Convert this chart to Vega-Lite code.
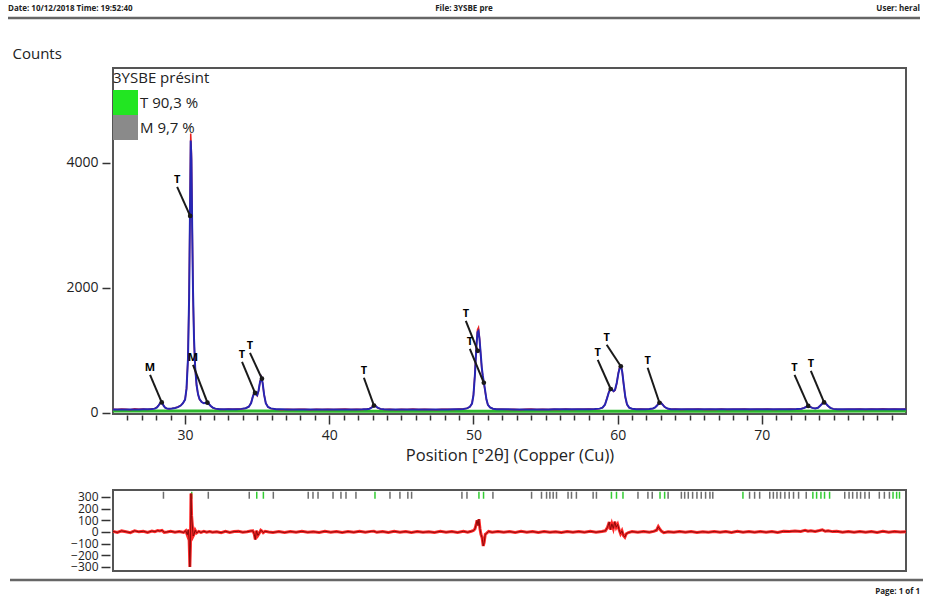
{
  "$schema": "https://vega.github.io/schema/vega-lite/v6.json",
  "background": "white",
  "padding": {"left": 6, "top": 0, "right": 4, "bottom": 2},
  "config": {
    "font": "Open Sans",
    "view": {"stroke": null},
    "axis": {"labelColor": "#222", "titleColor": "#222", "tickColor": "#333", "titleFontWeight": "normal", "grid": false, "domain": false, "labelFont": "Open Sans", "titleFont": "Open Sans"}
  },
  "datasets": {
    "bkg": [
      {"x": 25, "bg": 30}, {"x": 40, "bg": 26}, {"x": 60, "bg": 24}, {"x": 80, "bg": 27}
    ],
    "profile": [
      {"x": 25.0, "obs": 58, "calc": 52}, {"x": 25.3, "obs": 52, "calc": 52}, {"x": 25.6, "obs": 61, "calc": 52}, {"x": 25.9, "obs": 55, "calc": 52},
      {"x": 26.2, "obs": 50, "calc": 53}, {"x": 26.5, "obs": 63, "calc": 53}, {"x": 26.8, "obs": 56, "calc": 54}, {"x": 27.1, "obs": 60, "calc": 55},
      {"x": 27.4, "obs": 54, "calc": 57}, {"x": 27.7, "obs": 66, "calc": 60}, {"x": 27.9, "obs": 70, "calc": 66}, {"x": 28.05, "obs": 90, "calc": 85},
      {"x": 28.15, "obs": 118, "calc": 112}, {"x": 28.25, "obs": 150, "calc": 145}, {"x": 28.33, "obs": 172, "calc": 165}, {"x": 28.42, "obs": 158, "calc": 152},
      {"x": 28.52, "obs": 112, "calc": 110}, {"x": 28.62, "obs": 82, "calc": 80}, {"x": 28.75, "obs": 66, "calc": 66}, {"x": 28.9, "obs": 62, "calc": 64},
      {"x": 29.1, "obs": 70, "calc": 68}, {"x": 29.3, "obs": 76, "calc": 76}, {"x": 29.5, "obs": 92, "calc": 90}, {"x": 29.7, "obs": 118, "calc": 115},
      {"x": 29.85, "obs": 150, "calc": 152}, {"x": 30.0, "obs": 215, "calc": 210}, {"x": 30.1, "obs": 380, "calc": 390}, {"x": 30.2, "obs": 880, "calc": 860},
      {"x": 30.28, "obs": 1900, "calc": 1850}, {"x": 30.34, "obs": 3300, "calc": 3200}, {"x": 30.39, "obs": 4470, "calc": 4360}, {"x": 30.44, "obs": 4150, "calc": 4050},
      {"x": 30.49, "obs": 3100, "calc": 3000}, {"x": 30.55, "obs": 1900, "calc": 1950}, {"x": 30.62, "obs": 1150, "calc": 1180}, {"x": 30.7, "obs": 700, "calc": 720},
      {"x": 30.8, "obs": 430, "calc": 440}, {"x": 30.9, "obs": 290, "calc": 295}, {"x": 31.0, "obs": 215, "calc": 218}, {"x": 31.15, "obs": 170, "calc": 172},
      {"x": 31.3, "obs": 155, "calc": 152}, {"x": 31.45, "obs": 158, "calc": 160}, {"x": 31.55, "obs": 165, "calc": 162}, {"x": 31.65, "obs": 140, "calc": 140},
      {"x": 31.78, "obs": 105, "calc": 108}, {"x": 31.92, "obs": 80, "calc": 82}, {"x": 32.1, "obs": 64, "calc": 66}, {"x": 32.4, "obs": 58, "calc": 58},
      {"x": 32.7, "obs": 51, "calc": 55}, {"x": 33.0, "obs": 60, "calc": 55}, {"x": 33.3, "obs": 55, "calc": 56}, {"x": 33.6, "obs": 62, "calc": 58},
      {"x": 33.9, "obs": 61, "calc": 62}, {"x": 34.2, "obs": 72, "calc": 72}, {"x": 34.42, "obs": 98, "calc": 96}, {"x": 34.58, "obs": 160, "calc": 155},
      {"x": 34.7, "obs": 265, "calc": 258}, {"x": 34.8, "obs": 325, "calc": 318}, {"x": 34.9, "obs": 305, "calc": 298}, {"x": 35.0, "obs": 272, "calc": 280},
      {"x": 35.1, "obs": 350, "calc": 360}, {"x": 35.2, "obs": 500, "calc": 495}, {"x": 35.3, "obs": 568, "calc": 560}, {"x": 35.38, "obs": 470, "calc": 475},
      {"x": 35.48, "obs": 285, "calc": 290}, {"x": 35.6, "obs": 155, "calc": 150}, {"x": 35.75, "obs": 92, "calc": 92}, {"x": 35.95, "obs": 68, "calc": 70},
      {"x": 36.3, "obs": 58, "calc": 58}, {"x": 36.7, "obs": 50, "calc": 55}, {"x": 37.1, "obs": 57, "calc": 54}, {"x": 37.5, "obs": 52, "calc": 54},
      {"x": 37.9, "obs": 58, "calc": 54}, {"x": 38.3, "obs": 55, "calc": 54}, {"x": 38.7, "obs": 49, "calc": 54}, {"x": 39.1, "obs": 56, "calc": 54},
      {"x": 39.5, "obs": 53, "calc": 53}, {"x": 39.9, "obs": 58, "calc": 53}, {"x": 40.3, "obs": 51, "calc": 53}, {"x": 40.7, "obs": 55, "calc": 53},
      {"x": 41.1, "obs": 60, "calc": 53}, {"x": 41.5, "obs": 52, "calc": 53}, {"x": 41.9, "obs": 56, "calc": 54}, {"x": 42.3, "obs": 52, "calc": 55},
      {"x": 42.6, "obs": 60, "calc": 58}, {"x": 42.8, "obs": 68, "calc": 65}, {"x": 42.95, "obs": 88, "calc": 84}, {"x": 43.08, "obs": 118, "calc": 112},
      {"x": 43.2, "obs": 112, "calc": 110}, {"x": 43.35, "obs": 80, "calc": 80}, {"x": 43.55, "obs": 60, "calc": 62}, {"x": 43.8, "obs": 54, "calc": 55},
      {"x": 44.2, "obs": 58, "calc": 53}, {"x": 44.6, "obs": 50, "calc": 53}, {"x": 45.0, "obs": 56, "calc": 53}, {"x": 45.4, "obs": 53, "calc": 53},
      {"x": 45.8, "obs": 59, "calc": 53}, {"x": 46.2, "obs": 51, "calc": 53}, {"x": 46.6, "obs": 57, "calc": 53}, {"x": 47.0, "obs": 54, "calc": 53},
      {"x": 47.4, "obs": 50, "calc": 53}, {"x": 47.8, "obs": 58, "calc": 54}, {"x": 48.2, "obs": 55, "calc": 54}, {"x": 48.6, "obs": 52, "calc": 55},
      {"x": 49.0, "obs": 60, "calc": 57}, {"x": 49.3, "obs": 62, "calc": 60}, {"x": 49.55, "obs": 72, "calc": 70}, {"x": 49.75, "obs": 95, "calc": 95},
      {"x": 49.9, "obs": 150, "calc": 148}, {"x": 50.0, "obs": 290, "calc": 280}, {"x": 50.1, "obs": 620, "calc": 600}, {"x": 50.2, "obs": 1080, "calc": 1040},
      {"x": 50.28, "obs": 1330, "calc": 1290}, {"x": 50.35, "obs": 1365, "calc": 1310}, {"x": 50.42, "obs": 1200, "calc": 1180}, {"x": 50.5, "obs": 930, "calc": 950},
      {"x": 50.58, "obs": 700, "calc": 720}, {"x": 50.65, "obs": 580, "calc": 590}, {"x": 50.72, "obs": 480, "calc": 490}, {"x": 50.8, "obs": 360, "calc": 370},
      {"x": 50.9, "obs": 210, "calc": 215}, {"x": 51.0, "obs": 130, "calc": 128}, {"x": 51.15, "obs": 85, "calc": 85}, {"x": 51.35, "obs": 64, "calc": 65},
      {"x": 51.6, "obs": 56, "calc": 58}, {"x": 52.0, "obs": 58, "calc": 55}, {"x": 52.4, "obs": 52, "calc": 55}, {"x": 52.8, "obs": 57, "calc": 54},
      {"x": 53.2, "obs": 50, "calc": 54}, {"x": 53.6, "obs": 55, "calc": 54}, {"x": 54.0, "obs": 59, "calc": 54}, {"x": 54.4, "obs": 53, "calc": 54},
      {"x": 54.8, "obs": 57, "calc": 54}, {"x": 55.2, "obs": 51, "calc": 54}, {"x": 55.6, "obs": 56, "calc": 55}, {"x": 56.0, "obs": 54, "calc": 55},
      {"x": 56.4, "obs": 60, "calc": 55}, {"x": 56.8, "obs": 52, "calc": 55}, {"x": 57.2, "obs": 57, "calc": 56}, {"x": 57.6, "obs": 55, "calc": 57},
      {"x": 58.0, "obs": 62, "calc": 58}, {"x": 58.4, "obs": 58, "calc": 60}, {"x": 58.75, "obs": 66, "calc": 66}, {"x": 58.95, "obs": 82, "calc": 80},
      {"x": 59.12, "obs": 130, "calc": 128}, {"x": 59.27, "obs": 240, "calc": 235}, {"x": 59.4, "obs": 340, "calc": 335}, {"x": 59.52, "obs": 384, "calc": 375},
      {"x": 59.62, "obs": 370, "calc": 365}, {"x": 59.72, "obs": 340, "calc": 345}, {"x": 59.82, "obs": 360, "calc": 370}, {"x": 59.94, "obs": 470, "calc": 480},
      {"x": 60.05, "obs": 640, "calc": 630}, {"x": 60.15, "obs": 740, "calc": 725}, {"x": 60.24, "obs": 752, "calc": 740}, {"x": 60.32, "obs": 650, "calc": 655},
      {"x": 60.42, "obs": 450, "calc": 460}, {"x": 60.53, "obs": 250, "calc": 255}, {"x": 60.65, "obs": 130, "calc": 135}, {"x": 60.8, "obs": 80, "calc": 82},
      {"x": 61.0, "obs": 62, "calc": 64}, {"x": 61.3, "obs": 56, "calc": 58}, {"x": 61.6, "obs": 60, "calc": 57}, {"x": 61.9, "obs": 55, "calc": 58},
      {"x": 62.2, "obs": 60, "calc": 60}, {"x": 62.45, "obs": 68, "calc": 68}, {"x": 62.6, "obs": 85, "calc": 85}, {"x": 62.75, "obs": 125, "calc": 120},
      {"x": 62.88, "obs": 162, "calc": 158}, {"x": 63.0, "obs": 165, "calc": 160}, {"x": 63.12, "obs": 132, "calc": 130}, {"x": 63.25, "obs": 95, "calc": 95},
      {"x": 63.45, "obs": 68, "calc": 68}, {"x": 63.7, "obs": 56, "calc": 58}, {"x": 64.0, "obs": 60, "calc": 56}, {"x": 64.4, "obs": 53, "calc": 56},
      {"x": 64.8, "obs": 58, "calc": 56}, {"x": 65.2, "obs": 55, "calc": 56}, {"x": 65.6, "obs": 61, "calc": 56}, {"x": 66.0, "obs": 52, "calc": 56},
      {"x": 66.4, "obs": 57, "calc": 56}, {"x": 66.8, "obs": 54, "calc": 56}, {"x": 67.2, "obs": 59, "calc": 56}, {"x": 67.6, "obs": 53, "calc": 56},
      {"x": 68.0, "obs": 57, "calc": 56}, {"x": 68.4, "obs": 55, "calc": 56}, {"x": 68.8, "obs": 60, "calc": 56}, {"x": 69.2, "obs": 54, "calc": 56},
      {"x": 69.6, "obs": 58, "calc": 56}, {"x": 70.0, "obs": 55, "calc": 56}, {"x": 70.4, "obs": 60, "calc": 57}, {"x": 70.8, "obs": 53, "calc": 57},
      {"x": 71.2, "obs": 58, "calc": 57}, {"x": 71.6, "obs": 56, "calc": 57}, {"x": 72.0, "obs": 61, "calc": 58}, {"x": 72.4, "obs": 57, "calc": 59},
      {"x": 72.75, "obs": 64, "calc": 64}, {"x": 72.95, "obs": 80, "calc": 78}, {"x": 73.1, "obs": 100, "calc": 96}, {"x": 73.22, "obs": 112, "calc": 108},
      {"x": 73.35, "obs": 98, "calc": 95}, {"x": 73.5, "obs": 78, "calc": 78}, {"x": 73.7, "obs": 70, "calc": 70}, {"x": 73.9, "obs": 82, "calc": 80},
      {"x": 74.05, "obs": 115, "calc": 112}, {"x": 74.2, "obs": 150, "calc": 148}, {"x": 74.32, "obs": 166, "calc": 162}, {"x": 74.44, "obs": 148, "calc": 148},
      {"x": 74.58, "obs": 110, "calc": 112}, {"x": 74.75, "obs": 78, "calc": 78}, {"x": 74.95, "obs": 62, "calc": 62}, {"x": 75.2, "obs": 57, "calc": 57},
      {"x": 75.6, "obs": 53, "calc": 56}, {"x": 76.0, "obs": 58, "calc": 56}, {"x": 76.4, "obs": 55, "calc": 56}, {"x": 76.8, "obs": 60, "calc": 56},
      {"x": 77.2, "obs": 54, "calc": 56}, {"x": 77.6, "obs": 62, "calc": 57}, {"x": 78.0, "obs": 56, "calc": 57}, {"x": 78.4, "obs": 63, "calc": 57},
      {"x": 78.8, "obs": 58, "calc": 58}, {"x": 79.2, "obs": 61, "calc": 58}, {"x": 79.6, "obs": 55, "calc": 58}, {"x": 80.0, "obs": 60, "calc": 58}
    ],
    "ann": [
      {"label": "M", "lx": 27.57, "ly": 608, "px": 28.38, "py": 165},
      {"label": "T", "lx": 29.45, "ly": 3616, "px": 30.35, "py": 3152},
      {"label": "M", "lx": 30.55, "ly": 768, "px": 31.55, "py": 162},
      {"label": "T", "lx": 33.95, "ly": 816, "px": 34.85, "py": 318},
      {"label": "T", "lx": 34.5, "ly": 960, "px": 35.33, "py": 545},
      {"label": "T", "lx": 42.4, "ly": 560, "px": 43.1, "py": 115},
      {"label": "T", "lx": 49.47, "ly": 1472, "px": 50.3, "py": 992},
      {"label": "T", "lx": 49.75, "ly": 1024, "px": 50.72, "py": 480},
      {"label": "T", "lx": 58.62, "ly": 848, "px": 59.52, "py": 380},
      {"label": "T", "lx": 59.24, "ly": 1088, "px": 60.22, "py": 745},
      {"label": "T", "lx": 62.08, "ly": 720, "px": 62.9, "py": 160},
      {"label": "T", "lx": 72.27, "ly": 608, "px": 73.22, "py": 110},
      {"label": "T", "lx": 73.4, "ly": 672, "px": 74.32, "py": 165}
    ],
    "phases": [{"phase": "T 90,3 %"}, {"phase": "M 9,7 %"}],
    "refl": [
      {"phase": "M", "x": 28.5}, {"phase": "T", "x": 30.46}, {"phase": "M", "x": 31.61}, {"phase": "M", "x": 34.45},
      {"phase": "T", "x": 34.97}, {"phase": "T", "x": 35.43}, {"phase": "M", "x": 36.12}, {"phase": "M", "x": 38.54},
      {"phase": "M", "x": 38.87}, {"phase": "M", "x": 39.22}, {"phase": "M", "x": 40.26}, {"phase": "M", "x": 40.81},
      {"phase": "M", "x": 41.16}, {"phase": "M", "x": 41.85}, {"phase": "T", "x": 43.17}, {"phase": "M", "x": 44.21},
      {"phase": "M", "x": 44.9}, {"phase": "M", "x": 45.45}, {"phase": "M", "x": 45.71}, {"phase": "M", "x": 49.2},
      {"phase": "M", "x": 49.55}, {"phase": "T", "x": 50.38}, {"phase": "T", "x": 50.7}, {"phase": "M", "x": 51.35},
      {"phase": "M", "x": 54.03}, {"phase": "M", "x": 54.72}, {"phase": "M", "x": 55.07}, {"phase": "M", "x": 55.3},
      {"phase": "M", "x": 55.53}, {"phase": "M", "x": 55.76}, {"phase": "M", "x": 56.56}, {"phase": "M", "x": 56.8},
      {"phase": "M", "x": 57.14}, {"phase": "M", "x": 58.3}, {"phase": "M", "x": 58.53}, {"phase": "T", "x": 59.57},
      {"phase": "T", "x": 59.92}, {"phase": "T", "x": 60.37}, {"phase": "M", "x": 61.41}, {"phase": "M", "x": 62.1},
      {"phase": "M", "x": 62.4}, {"phase": "T", "x": 62.94}, {"phase": "T", "x": 63.26}, {"phase": "M", "x": 63.5},
      {"phase": "M", "x": 64.42}, {"phase": "M", "x": 64.65}, {"phase": "M", "x": 64.9}, {"phase": "M", "x": 65.2},
      {"phase": "M", "x": 65.5}, {"phase": "M", "x": 65.8}, {"phase": "M", "x": 66.1}, {"phase": "M", "x": 66.4},
      {"phase": "M", "x": 66.6}, {"phase": "T", "x": 68.69}, {"phase": "M", "x": 69.15}, {"phase": "M", "x": 69.5},
      {"phase": "M", "x": 69.85}, {"phase": "M", "x": 70.55}, {"phase": "M", "x": 70.8}, {"phase": "M", "x": 71.05},
      {"phase": "M", "x": 71.3}, {"phase": "M", "x": 71.6}, {"phase": "M", "x": 71.9}, {"phase": "M", "x": 72.2},
      {"phase": "M", "x": 72.55}, {"phase": "M", "x": 73.08}, {"phase": "T", "x": 73.54}, {"phase": "T", "x": 73.8},
      {"phase": "T", "x": 74.1}, {"phase": "T", "x": 74.35}, {"phase": "T", "x": 74.7}, {"phase": "M", "x": 75.75},
      {"phase": "M", "x": 76.05}, {"phase": "M", "x": 76.3}, {"phase": "M", "x": 76.6}, {"phase": "M", "x": 76.85},
      {"phase": "M", "x": 77.15}, {"phase": "M", "x": 77.45}, {"phase": "M", "x": 78.15}, {"phase": "M", "x": 78.5},
      {"phase": "M", "x": 78.85}, {"phase": "T", "x": 79.1}, {"phase": "T", "x": 79.35}, {"phase": "T", "x": 79.55}
    ],
    "resid": [
      {"x": 25.0, "d": 5}, {"x": 25.3, "d": -4}, {"x": 25.6, "d": 9}, {"x": 25.9, "d": 2}, {"x": 26.2, "d": -6}, {"x": 26.5, "d": 10},
      {"x": 26.8, "d": 1}, {"x": 27.1, "d": 6}, {"x": 27.4, "d": -4}, {"x": 27.7, "d": 8}, {"x": 27.9, "d": 3}, {"x": 28.1, "d": 12},
      {"x": 28.25, "d": 8}, {"x": 28.4, "d": 14}, {"x": 28.55, "d": -3}, {"x": 28.75, "d": 0}, {"x": 29.0, "d": 6}, {"x": 29.3, "d": -2},
      {"x": 29.6, "d": 4}, {"x": 29.9, "d": -4}, {"x": 30.05, "d": 10}, {"x": 30.15, "d": -25}, {"x": 30.22, "d": 20}, {"x": 30.28, "d": -60},
      {"x": 30.33, "d": -300}, {"x": 30.37, "d": -120}, {"x": 30.41, "d": 330}, {"x": 30.45, "d": 140}, {"x": 30.5, "d": 60}, {"x": 30.56, "d": -35},
      {"x": 30.62, "d": -20}, {"x": 30.7, "d": 15}, {"x": 30.8, "d": -8}, {"x": 30.95, "d": 5}, {"x": 31.1, "d": -4}, {"x": 31.3, "d": 6},
      {"x": 31.5, "d": -2}, {"x": 31.7, "d": 4}, {"x": 31.9, "d": -3}, {"x": 32.2, "d": 2}, {"x": 32.5, "d": -6}, {"x": 32.8, "d": 5},
      {"x": 33.1, "d": -4}, {"x": 33.4, "d": 3}, {"x": 33.7, "d": 6}, {"x": 34.0, "d": -3}, {"x": 34.3, "d": 2}, {"x": 34.55, "d": 8},
      {"x": 34.7, "d": 10}, {"x": 34.8, "d": -20}, {"x": 34.87, "d": -65}, {"x": 34.95, "d": 10}, {"x": 35.05, "d": -30}, {"x": 35.15, "d": -10},
      {"x": 35.25, "d": 15}, {"x": 35.33, "d": 8}, {"x": 35.42, "d": -6}, {"x": 35.55, "d": 5}, {"x": 35.8, "d": 0}, {"x": 36.1, "d": -4},
      {"x": 36.5, "d": 3}, {"x": 36.9, "d": -5}, {"x": 37.3, "d": 4}, {"x": 37.7, "d": -2}, {"x": 38.1, "d": 5}, {"x": 38.5, "d": -3},
      {"x": 38.9, "d": 2}, {"x": 39.3, "d": -4}, {"x": 39.7, "d": 6}, {"x": 40.1, "d": -2}, {"x": 40.5, "d": 3}, {"x": 40.9, "d": -5},
      {"x": 41.3, "d": 4}, {"x": 41.7, "d": -3}, {"x": 42.1, "d": 5}, {"x": 42.5, "d": -2}, {"x": 42.9, "d": 5}, {"x": 43.1, "d": 6},
      {"x": 43.3, "d": -3}, {"x": 43.7, "d": 3}, {"x": 44.1, "d": -4}, {"x": 44.5, "d": 5}, {"x": 44.9, "d": -2}, {"x": 45.3, "d": 3},
      {"x": 45.7, "d": -5}, {"x": 46.1, "d": 4}, {"x": 46.5, "d": -3}, {"x": 46.9, "d": 2}, {"x": 47.3, "d": -4}, {"x": 47.7, "d": 5},
      {"x": 48.1, "d": -2}, {"x": 48.5, "d": 3}, {"x": 48.9, "d": -4}, {"x": 49.3, "d": 5}, {"x": 49.6, "d": -3}, {"x": 49.85, "d": 6},
      {"x": 50.0, "d": 12}, {"x": 50.1, "d": 25}, {"x": 50.18, "d": 60}, {"x": 50.25, "d": 100}, {"x": 50.32, "d": 55}, {"x": 50.38, "d": 110},
      {"x": 50.45, "d": 30}, {"x": 50.52, "d": -20}, {"x": 50.6, "d": -50}, {"x": 50.68, "d": -120}, {"x": 50.74, "d": -90}, {"x": 50.82, "d": -20},
      {"x": 50.92, "d": -10}, {"x": 51.05, "d": 4}, {"x": 51.3, "d": -3}, {"x": 51.7, "d": 4}, {"x": 52.1, "d": -2}, {"x": 52.5, "d": 3},
      {"x": 52.9, "d": -4}, {"x": 53.3, "d": 5}, {"x": 53.7, "d": -2}, {"x": 54.1, "d": 3}, {"x": 54.5, "d": -4}, {"x": 54.9, "d": 4},
      {"x": 55.3, "d": -3}, {"x": 55.7, "d": 2}, {"x": 56.1, "d": -5}, {"x": 56.5, "d": 3}, {"x": 56.9, "d": -2}, {"x": 57.3, "d": 4},
      {"x": 57.7, "d": -3}, {"x": 58.1, "d": 5}, {"x": 58.5, "d": -2}, {"x": 58.9, "d": 4}, {"x": 59.15, "d": 10}, {"x": 59.3, "d": 40},
      {"x": 59.42, "d": 85}, {"x": 59.5, "d": 20}, {"x": 59.6, "d": 70}, {"x": 59.7, "d": 30}, {"x": 59.8, "d": 88}, {"x": 59.9, "d": 40},
      {"x": 60.0, "d": 65}, {"x": 60.1, "d": 20}, {"x": 60.2, "d": -15}, {"x": 60.3, "d": 10}, {"x": 60.4, "d": -30}, {"x": 60.5, "d": -45},
      {"x": 60.6, "d": -15}, {"x": 60.75, "d": -5}, {"x": 61.0, "d": 3}, {"x": 61.4, "d": -3}, {"x": 61.8, "d": 4}, {"x": 62.2, "d": -2},
      {"x": 62.5, "d": 5}, {"x": 62.7, "d": 15}, {"x": 62.82, "d": 45}, {"x": 62.92, "d": 25}, {"x": 63.05, "d": 5}, {"x": 63.2, "d": -6},
      {"x": 63.5, "d": 2}, {"x": 63.9, "d": -3}, {"x": 64.3, "d": 4}, {"x": 64.7, "d": -2}, {"x": 65.1, "d": 3}, {"x": 65.5, "d": -4},
      {"x": 65.9, "d": 2}, {"x": 66.3, "d": -3}, {"x": 66.7, "d": 4}, {"x": 67.1, "d": -2}, {"x": 67.5, "d": 3}, {"x": 67.9, "d": -4},
      {"x": 68.3, "d": 5}, {"x": 68.7, "d": -2}, {"x": 69.1, "d": 3}, {"x": 69.5, "d": -3}, {"x": 69.9, "d": 4}, {"x": 70.3, "d": -2},
      {"x": 70.7, "d": 3}, {"x": 71.1, "d": -4}, {"x": 71.5, "d": 5}, {"x": 71.9, "d": 4}, {"x": 72.3, "d": 8}, {"x": 72.7, "d": 5},
      {"x": 73.0, "d": 14}, {"x": 73.2, "d": 6}, {"x": 73.4, "d": 10}, {"x": 73.7, "d": 4}, {"x": 74.0, "d": 12}, {"x": 74.2, "d": 18},
      {"x": 74.4, "d": 6}, {"x": 74.6, "d": 10}, {"x": 74.9, "d": 3}, {"x": 75.2, "d": 5}, {"x": 75.6, "d": -2}, {"x": 76.0, "d": 3},
      {"x": 76.4, "d": -3}, {"x": 76.8, "d": 4}, {"x": 77.2, "d": -2}, {"x": 77.6, "d": 3}, {"x": 78.0, "d": -4}, {"x": 78.4, "d": 5},
      {"x": 78.8, "d": -2}, {"x": 79.2, "d": 3}, {"x": 79.6, "d": -1}, {"x": 80.0, "d": 2}
    ]
  },
  "spacing": 25,
  "resolve": {"scale": {"color": "independent"}, "legend": {"color": "independent"}},
  "vconcat": [
    {
      "width": 793,
      "height": 18,
      "view": {"stroke": null},
      "layer": [
        {
          "data": {"values": [{"t": "Date: 10/12/2018 Time: 19:52:40"}]},
          "mark": {"type": "text", "align": "left", "baseline": "middle", "fontSize": 8, "fontWeight": "bold", "color": "#222"},
          "encoding": {
            "x": {"datum": 0, "type": "quantitative", "scale": {"domain": [0, 1], "range": [-105, 807]}, "axis": null},
            "y": {"datum": 0.5, "type": "quantitative", "scale": {"domain": [0, 1]}, "axis": null},
            "text": {"field": "t"}
          }
        },
        {
          "data": {"values": [{"t": "File: 3YSBE pre"}]},
          "mark": {"type": "text", "align": "center", "baseline": "middle", "fontSize": 8, "fontWeight": "bold", "color": "#222"},
          "encoding": {
            "x": {"datum": 0.5, "type": "quantitative"},
            "y": {"datum": 0.5, "type": "quantitative"},
            "text": {"field": "t"}
          }
        },
        {
          "data": {"values": [{"t": "User: heral"}]},
          "mark": {"type": "text", "align": "right", "baseline": "middle", "fontSize": 8, "fontWeight": "bold", "color": "#222"},
          "encoding": {
            "x": {"datum": 1, "type": "quantitative"},
            "y": {"datum": 0.5, "type": "quantitative"},
            "text": {"field": "t"}
          }
        },
        {
          "data": {"values": [{"t": "line"}]},
          "mark": {"type": "rule", "color": "#666", "strokeWidth": 2.5},
          "encoding": {
            "x": {"datum": 0, "type": "quantitative"},
            "x2": {"datum": 1},
            "y": {"datum": 0, "type": "quantitative"}
          }
        }
      ]
    },
    {
      "spacing": 21,
      "resolve": {"scale": {"color": "independent"}, "legend": {"color": "independent"}},
      "vconcat": [
        {
          "width": 793,
          "height": 346,
          "view": {"stroke": "#555", "strokeWidth": 2},
          "layer": [
            {
              "data": {"name": "bkg"},
              "mark": {"type": "line", "color": "#2db82d", "strokeWidth": 3},
              "encoding": {
                "x": {
                  "field": "x", "type": "quantitative",
                  "scale": {"domain": [25, 80], "nice": false, "zero": false},
                  "axis": {
                    "values": [26,27,28,29,30,31,32,33,34,35,36,37,38,39,40,41,42,43,44,45,46,47,48,49,50,51,52,53,54,55,56,57,58,59,60,61,62,63,64,65,66,67,68,69,70,71,72,73,74,75,76,77,78,79],
                    "tickCount": 100,
                    "format": "d",
                    "labelExpr": "datum.value % 10 === 0 ? datum.label : ''",
                    "tickSize": {"condition": {"test": "datum.value % 10 === 0", "value": 9}, "value": 5},
                    "tickWidth": 1.5,
                    "offset": 1,
                    "labelFontSize": 14,
                    "labelPadding": 4,
                    "labelOverlap": false,
                    "labelFlush": false,
                    "title": "Position [°2θ] (Copper (Cu))",
                    "titleFontSize": 16.5,
                    "titlePadding": 5
                  }
                },
                "y": {
                  "field": "bg", "type": "quantitative",
                  "scale": {"domain": [-20, 5520], "nice": false, "zero": false},
                  "axis": {
                    "values": [0, 2000, 4000],
                    "tickCount": 10,
                    "format": "d",
                    "tickSize": 8,
                    "tickWidth": 1.5,
                    "offset": 3,
                    "labelPadding": 4,
                    "labelFontSize": 14,
                    "labelOverlap": false,
                    "title": "Counts",
                    "titleAngle": 0,
                    "titleAlign": "left",
                    "titleBaseline": "middle",
                    "titleX": -98,
                    "titleY": -15,
                    "titleFontSize": 15
                  }
                }
              }
            },
            {
              "data": {"name": "profile"},
              "mark": {"type": "line", "color": "#e82020", "strokeWidth": 1.5},
              "encoding": {
                "x": {"field": "x", "type": "quantitative"},
                "y": {"field": "obs", "type": "quantitative"}
              }
            },
            {
              "data": {"name": "profile"},
              "mark": {"type": "line", "color": "#2626b4", "strokeWidth": 2},
              "encoding": {
                "x": {"field": "x", "type": "quantitative"},
                "y": {"field": "calc", "type": "quantitative"}
              }
            },
            {
              "data": {"name": "ann"},
              "mark": {"type": "rule", "color": "#1a1a1a", "strokeWidth": 2},
              "encoding": {
                "x": {"field": "lx", "type": "quantitative"},
                "y": {"field": "ly", "type": "quantitative"},
                "x2": {"field": "px"},
                "y2": {"field": "py"}
              }
            },
            {
              "data": {"name": "ann"},
              "mark": {"type": "point", "filled": true, "color": "#1a1a1a", "size": 22, "opacity": 1},
              "encoding": {
                "x": {"field": "px", "type": "quantitative"},
                "y": {"field": "py", "type": "quantitative"}
              }
            },
            {
              "data": {"name": "ann"},
              "mark": {"type": "text", "fontSize": 11, "fontWeight": "bold", "baseline": "bottom", "align": "center", "dy": -2, "color": "#000"},
              "encoding": {
                "x": {"field": "lx", "type": "quantitative"},
                "y": {"field": "ly", "type": "quantitative"},
                "text": {"field": "label"}
              }
            },
            {
              "data": {"name": "phases"},
              "mark": {"type": "square", "opacity": 0},
              "encoding": {
                "color": {
                  "field": "phase", "type": "nominal",
                  "scale": {"domain": ["T 90,3 %", "M 9,7 %"], "range": ["#22e622", "#8a8a8a"]},
                  "legend": {
                    "title": "3YSBE présint",
                    "orient": "none",
                    "legendX": 0,
                    "legendY": 3,
                    "padding": 0,
                    "symbolType": "square",
                    "symbolSize": 625,
                    "symbolOpacity": 1,
                    "symbolStrokeWidth": 0,
                    "titleFontSize": 15,
                    "titleFontWeight": "normal",
                    "titleColor": "#222",
                    "titlePadding": 4,
                    "labelFontSize": 15,
                    "labelColor": "#222",
                    "labelOffset": 2,
                    "rowPadding": 0
                  }
                }
              }
            }
          ]
        },
        {
          "spacing": 4,
          "resolve": {"scale": {"color": "independent"}, "legend": {"color": "independent"}},
          "vconcat": [
            {
              "width": 793,
              "height": 81,
              "view": {"stroke": "#555", "strokeWidth": 2},
              "layer": [
                {
                  "data": {"name": "refl"},
                  "mark": {"type": "rule", "strokeWidth": 1.5},
                  "encoding": {
                    "x": {"field": "x", "type": "quantitative", "scale": {"domain": [25, 80], "nice": false, "zero": false}, "axis": null},
                    "y": {
                      "datum": 345, "type": "quantitative",
                      "scale": {"domain": [-335, 360], "nice": false, "zero": false},
                      "axis": {
                        "values": [-300, -200, -100, 0, 100, 200, 300],
                        "tickCount": 20,
                        "format": "d",
                        "title": null,
                        "tickSize": 9,
                        "tickWidth": 1.5,
                        "offset": 3,
                        "labelPadding": 3,
                        "labelFontSize": 12,
                        "labelOverlap": false
                      }
                    },
                    "y2": {"datum": 285},
                    "color": {"field": "phase", "type": "nominal", "scale": {"domain": ["T", "M"], "range": ["#33cc33", "#6e6e6e"]}, "legend": null}
                  }
                },
                {
                  "data": {"name": "resid"},
                  "mark": {"type": "line", "color": "#ff2a2a", "strokeWidth": 3},
                  "encoding": {
                    "x": {"field": "x", "type": "quantitative"},
                    "y": {"field": "d", "type": "quantitative"}
                  }
                },
                {
                  "data": {"name": "resid"},
                  "mark": {"type": "line", "color": "#8b0a0a", "strokeWidth": 1},
                  "encoding": {
                    "x": {"field": "x", "type": "quantitative"},
                    "y": {"field": "d", "type": "quantitative"}
                  }
                }
              ]
            },
            {
              "width": 793,
              "height": 12,
              "view": {"stroke": null},
              "layer": [
                {
                  "data": {"values": [{"t": "Page: 1 of 1"}]},
                  "mark": {"type": "text", "align": "right", "baseline": "middle", "fontSize": 8, "fontWeight": "bold", "dx": -3, "color": "#222"},
                  "encoding": {
                    "x": {"datum": 1, "type": "quantitative", "scale": {"domain": [0, 1], "range": [-103, 810]}, "axis": null},
                    "y": {"datum": 0, "type": "quantitative", "scale": {"domain": [0, 1]}, "axis": null},
                    "text": {"field": "t"}
                  }
                },
                {
                  "data": {"values": [{"t": "line"}]},
                  "mark": {"type": "rule", "color": "#666", "strokeWidth": 2.5},
                  "encoding": {
                    "x": {"datum": 0, "type": "quantitative"},
                    "x2": {"datum": 1},
                    "y": {"datum": 1, "type": "quantitative"}
                  }
                }
              ]
            }
          ]
        }
      ]
    }
  ]
}
